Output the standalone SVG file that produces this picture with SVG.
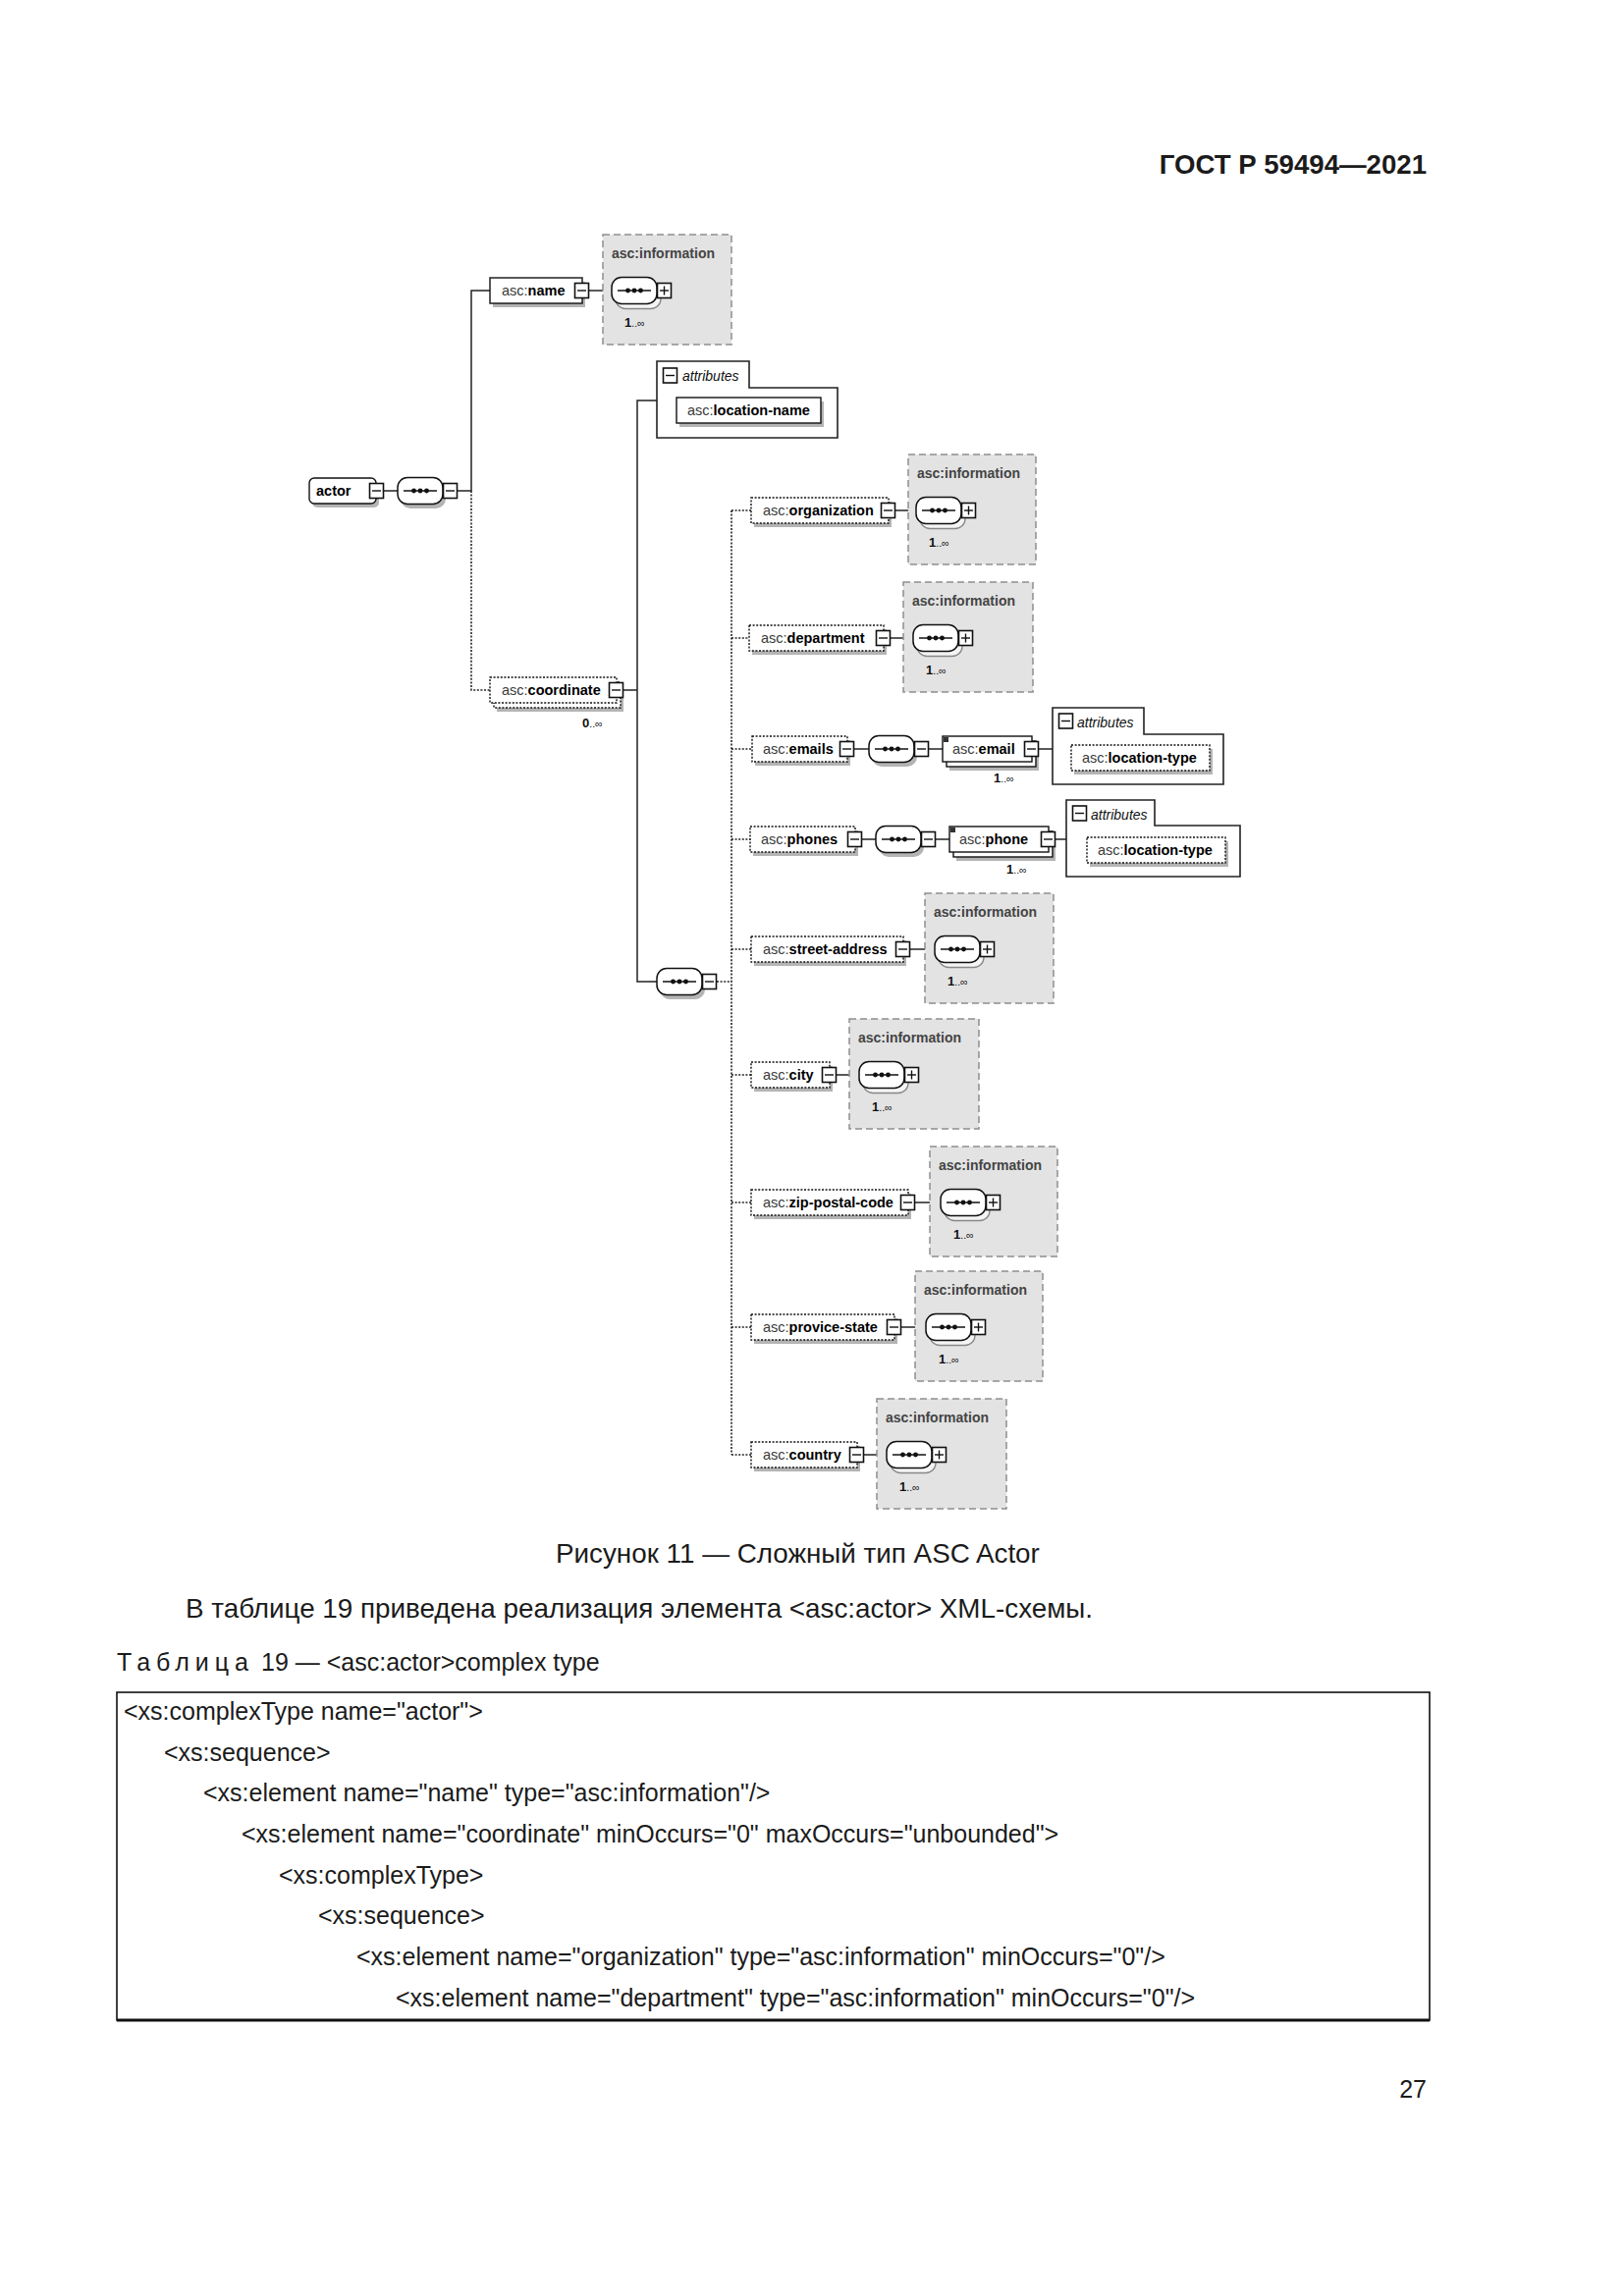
<svg xmlns="http://www.w3.org/2000/svg" width="1654" height="2339" viewBox="0 0 1654 2339">
<style>
 text{font-family:"Liberation Sans",Arial,sans-serif}
 .lbl{font-size:14.5px;fill:#3a3a3a}
 .b{font-weight:bold;fill:#000}
 .it{font-size:14px;font-weight:bold;fill:#444}
 .card{font-size:13px;font-weight:bold;fill:#111}
 .sm{font-size:10.5px;font-weight:normal}
 .at{font-size:14px;font-style:italic;fill:#111}
 .el{fill:#fff;stroke:#111;stroke-width:1.4}
 .opt{stroke-dasharray:2 1.6}
 .sh{fill:#b4b4b4}
 .info{fill:#e3e3e3;stroke:#8e8e8e;stroke-width:1.5;stroke-dasharray:7 4}
 .c{stroke:#222;stroke-width:1.5;fill:none}
 .d{stroke:#222;stroke-width:1.6;fill:none;stroke-dasharray:2 1.6}
 .attr{fill:#fff;stroke:#222;stroke-width:1.6}
 .body{font-size:25px;fill:#1b1b1b}
 .big{font-size:27.8px}
 .hdr{font-size:27.6px;font-weight:bold}
</style>
<defs>
 <g id="mi"><rect x="0.5" y="0" width="14" height="15" fill="#fff" stroke="#111" stroke-width="1.6"/><line x1="3" y1="7.5" x2="12" y2="7.5" stroke="#111" stroke-width="1.4"/></g>
 <g id="pl"><rect x="0.5" y="0" width="14" height="15" fill="#fff" stroke="#111" stroke-width="1.6"/><line x1="3" y1="7.5" x2="12" y2="7.5" stroke="#111" stroke-width="1.4"/><line x1="7.5" y1="3" x2="7.5" y2="12" stroke="#111" stroke-width="1.4"/></g>
 <g id="dots"><line x1="6" y1="0" x2="40" y2="0" stroke="#111" stroke-width="1.3"/><circle cx="16.5" cy="0" r="2.4" fill="#111"/><circle cx="23" cy="0" r="2.4" fill="#111"/><circle cx="29.5" cy="0" r="2.4" fill="#111"/></g>
 <g id="seq">
  <rect x="3" y="-9" width="46" height="27" rx="10" fill="#b4b4b4"/>
  <rect x="0" y="-13.5" width="46" height="27" rx="10" fill="#fff" stroke="#111" stroke-width="1.5"/>
  <use href="#dots"/>
 </g>
 <g id="seqm">
  <rect x="4" y="-8.5" width="46" height="27" rx="10" fill="#f4f4f4" stroke="#888" stroke-width="1.3"/>
  <rect x="0" y="-13.5" width="46" height="27" rx="10" fill="#fff" stroke="#111" stroke-width="1.5"/>
  <use href="#dots"/>
 </g>
</defs>

<text class="body hdr" x="1453" y="177" text-anchor="end">ГОСТ Р 59494—2021</text>

<g id="connectors">
 <line class="c" x1="391" y1="500" x2="405" y2="500"/>
 <line class="c" x1="466" y1="500" x2="480" y2="500"/>
 <polyline class="c" points="480,500 480,296 499,296"/>
 <polyline class="d" points="480,500 480,703 499,703"/>
 <line class="c" x1="600" y1="296" x2="623" y2="296"/>
 <line class="c" x1="635" y1="703" x2="649" y2="703"/>
 <polyline class="c" points="669,408 649,408 649,1000 669,1000"/>
 <line class="d" x1="730" y1="1000" x2="745" y2="1000"/>
 <line class="d" x1="745" y1="520" x2="745" y2="1482"/>
 <line class="d" x1="745" y1="520" x2="765" y2="520"/>
 <line class="d" x1="745" y1="650" x2="763" y2="650"/>
 <line class="d" x1="745" y1="763" x2="766" y2="763"/>
 <line class="d" x1="745" y1="855" x2="764" y2="855"/>
 <line class="d" x1="745" y1="967" x2="765" y2="967"/>
 <line class="d" x1="745" y1="1095" x2="765" y2="1095"/>
 <line class="d" x1="745" y1="1225" x2="765" y2="1225"/>
 <line class="d" x1="745" y1="1352" x2="765" y2="1352"/>
 <line class="d" x1="745" y1="1482" x2="765" y2="1482"/>
 <line class="c" x1="912" y1="520" x2="933" y2="520"/>
 <line class="c" x1="907" y1="650" x2="930" y2="650"/>
 <line class="c" x1="870" y1="763" x2="885" y2="763"/>
 <line class="c" x1="946" y1="763" x2="960" y2="763"/>
 <line class="c" x1="1058" y1="763" x2="1072" y2="763"/>
 <line class="c" x1="878" y1="855" x2="892" y2="855"/>
 <line class="c" x1="953" y1="855" x2="967" y2="855"/>
 <line class="c" x1="1075" y1="855" x2="1086" y2="855"/>
 <line class="c" x1="927" y1="967" x2="952" y2="967"/>
 <line class="c" x1="852" y1="1095" x2="875" y2="1095"/>
 <line class="c" x1="932" y1="1225" x2="958" y2="1225"/>
 <line class="c" x1="918" y1="1352" x2="943" y2="1352"/>
 <line class="c" x1="880" y1="1482" x2="903" y2="1482"/>
</g>

<g id="actor">
 <rect class="sh" x="318" y="491" width="68" height="26" rx="5"/>
 <rect class="el" x="315" y="487" width="68" height="26" rx="5"/>
 <text class="lbl b" x="322" y="505">actor</text>
 <use href="#mi" x="376" y="492.5"/>
</g>
<g id="actor-seq">
 <use href="#seq" x="405" y="500"/>
 <use href="#mi" x="451" y="492.5"/>
</g>

<g id="name">
 <rect class="sh" x="502" y="287" width="94" height="26"/>
 <rect class="el" x="499" y="283" width="94" height="26"/>
 <text class="lbl" x="511" y="301">asc:<tspan class="b">name</tspan></text>
 <use href="#mi" x="585" y="288.5"/>
</g>
<g id="name-info">
 <rect class="info" x="614" y="239" width="131" height="112"/>
 <text class="it" x="623" y="263">asc:information</text>
 <use href="#seqm" x="623" y="296"/>
 <use href="#pl" x="669" y="288.5"/>
 <text class="card" x="636" y="333">1<tspan class="sm">..∞</tspan></text>
</g>

<g id="coordinate">
 <rect class="sh" x="506" y="699" width="129" height="26"/>
 <rect class="el opt" x="503" y="695" width="129" height="26"/>
 <rect class="el opt" x="499" y="690" width="129" height="26"/>
 <text class="lbl" x="511" y="708">asc:<tspan class="b">coordinate</tspan></text>
 <use href="#mi" x="620" y="695.5"/>
 <text class="card" x="593" y="741">0<tspan class="sm">..∞</tspan></text>
</g>

<g id="coordinate-attributes">
 <path class="attr" d="M669,446 V368 H763 V395 H853 V446 Z"/>
 <use href="#mi" x="675" y="375"/>
 <text class="at" x="695" y="388">attributes</text>
 <rect class="sh" x="692" y="409" width="147" height="26"/>
 <rect class="el" x="689" y="405" width="147" height="26"/>
 <text class="lbl" x="700" y="423">asc:<tspan class="b">location-name</tspan></text>
</g>

<g id="coordinate-seq">
 <use href="#seq" x="669" y="1000"/>
 <use href="#mi" x="715" y="992.5"/>
</g>

<g id="organization">
 <rect class="sh" x="768" y="511" width="140" height="26"/>
 <rect class="el opt" x="765" y="507" width="140" height="26"/>
 <text class="lbl" x="777" y="525">asc:<tspan class="b">organization</tspan></text>
 <use href="#mi" x="897" y="512.5"/>
</g>
<g id="organization-info">
 <rect class="info" x="925" y="463" width="130" height="112"/>
 <text class="it" x="934" y="487">asc:information</text>
 <use href="#seqm" x="933" y="520"/>
 <use href="#pl" x="979" y="512.5"/>
 <text class="card" x="946" y="557">1<tspan class="sm">..∞</tspan></text>
</g>

<g id="department">
 <rect class="sh" x="766" y="641" width="137" height="26"/>
 <rect class="el opt" x="763" y="637" width="137" height="26"/>
 <text class="lbl" x="775" y="655">asc:<tspan class="b">department</tspan></text>
 <use href="#mi" x="892" y="642.5"/>
</g>
<g id="department-info">
 <rect class="info" x="920" y="593" width="132" height="112"/>
 <text class="it" x="929" y="617">asc:information</text>
 <use href="#seqm" x="930" y="650"/>
 <use href="#pl" x="976" y="642.5"/>
 <text class="card" x="943" y="687">1<tspan class="sm">..∞</tspan></text>
</g>

<g id="emails">
 <rect class="sh" x="769" y="754" width="97" height="26"/>
 <rect class="el opt" x="766" y="750" width="97" height="26"/>
 <text class="lbl" x="777" y="768">asc:<tspan class="b">emails</tspan></text>
 <use href="#mi" x="855" y="755.5"/>
</g>
<g id="emails-seq">
 <use href="#seq" x="885" y="763"/>
 <use href="#mi" x="931" y="755.5"/>
</g>
<g id="email">
 <rect class="sh" x="967" y="759" width="91" height="26"/>
 <rect class="el" x="964" y="755" width="91" height="26"/>
 <rect class="el" x="960" y="750" width="91" height="26"/>
 <rect x="961" y="751" width="5" height="5" fill="#333"/>
 <text class="lbl" x="970" y="768">asc:<tspan class="b">email</tspan></text>
 <use href="#mi" x="1043" y="755.5"/>
 <text class="card" x="1012" y="797">1<tspan class="sm">..∞</tspan></text>
</g>
<g id="email-attributes">
 <path class="attr" d="M1072,799 V721 H1165 V748 H1246 V799 Z"/>
 <use href="#mi" x="1078" y="727"/>
 <text class="at" x="1097" y="741">attributes</text>
 <rect class="sh" x="1094" y="763" width="141" height="26"/>
 <rect class="el opt" x="1091" y="759" width="141" height="26"/>
 <text class="lbl" x="1102" y="777">asc:<tspan class="b">location-type</tspan></text>
</g>

<g id="phones">
 <rect class="sh" x="767" y="846" width="107" height="26"/>
 <rect class="el opt" x="764" y="842" width="107" height="26"/>
 <text class="lbl" x="775" y="860">asc:<tspan class="b">phones</tspan></text>
 <use href="#mi" x="863" y="847.5"/>
</g>
<g id="phones-seq">
 <use href="#seq" x="892" y="855"/>
 <use href="#mi" x="938" y="847.5"/>
</g>
<g id="phone">
 <rect class="sh" x="974" y="851" width="101" height="26"/>
 <rect class="el" x="971" y="847" width="101" height="26"/>
 <rect class="el" x="967" y="842" width="101" height="26"/>
 <rect x="968" y="843" width="5" height="5" fill="#333"/>
 <text class="lbl" x="977" y="860">asc:<tspan class="b">phone</tspan></text>
 <use href="#mi" x="1060" y="847.5"/>
 <text class="card" x="1025" y="890">1<tspan class="sm">..∞</tspan></text>
</g>
<g id="phone-attributes">
 <path class="attr" d="M1086,893 V815 H1176 V841 H1263 V893 Z"/>
 <use href="#mi" x="1092" y="821"/>
 <text class="at" x="1111" y="835">attributes</text>
 <rect class="sh" x="1110" y="857" width="141" height="26"/>
 <rect class="el opt" x="1107" y="853" width="141" height="26"/>
 <text class="lbl" x="1118" y="871">asc:<tspan class="b">location-type</tspan></text>
</g>

<g id="street-address">
 <rect class="sh" x="768" y="958" width="155" height="26"/>
 <rect class="el opt" x="765" y="954" width="155" height="26"/>
 <text class="lbl" x="777" y="972">asc:<tspan class="b">street-address</tspan></text>
 <use href="#mi" x="912" y="959.5"/>
</g>
<g id="street-address-info">
 <rect class="info" x="942" y="910" width="131" height="112"/>
 <text class="it" x="951" y="934">asc:information</text>
 <use href="#seqm" x="952" y="967"/>
 <use href="#pl" x="998" y="959.5"/>
 <text class="card" x="965" y="1004">1<tspan class="sm">..∞</tspan></text>
</g>

<g id="city">
 <rect class="sh" x="768" y="1086" width="80" height="26"/>
 <rect class="el opt" x="765" y="1082" width="80" height="26"/>
 <text class="lbl" x="777" y="1100">asc:<tspan class="b">city</tspan></text>
 <use href="#mi" x="837" y="1087.5"/>
</g>
<g id="city-info">
 <rect class="info" x="865" y="1038" width="132" height="112"/>
 <text class="it" x="874" y="1062">asc:information</text>
 <use href="#seqm" x="875" y="1095"/>
 <use href="#pl" x="921" y="1087.5"/>
 <text class="card" x="888" y="1132">1<tspan class="sm">..∞</tspan></text>
</g>

<g id="zip-postal-code">
 <rect class="sh" x="768" y="1216" width="160" height="26"/>
 <rect class="el opt" x="765" y="1212" width="160" height="26"/>
 <text class="lbl" x="777" y="1230">asc:<tspan class="b">zip-postal-code</tspan></text>
 <use href="#mi" x="917" y="1217.5"/>
</g>
<g id="zip-postal-code-info">
 <rect class="info" x="947" y="1168" width="130" height="112"/>
 <text class="it" x="956" y="1192">asc:information</text>
 <use href="#seqm" x="958" y="1225"/>
 <use href="#pl" x="1004" y="1217.5"/>
 <text class="card" x="971" y="1262">1<tspan class="sm">..∞</tspan></text>
</g>

<g id="provice-state">
 <rect class="sh" x="768" y="1343" width="146" height="26"/>
 <rect class="el opt" x="765" y="1339" width="146" height="26"/>
 <text class="lbl" x="777" y="1357">asc:<tspan class="b">provice-state</tspan></text>
 <use href="#mi" x="903" y="1344.5"/>
</g>
<g id="provice-state-info">
 <rect class="info" x="932" y="1295" width="130" height="112"/>
 <text class="it" x="941" y="1319">asc:information</text>
 <use href="#seqm" x="943" y="1352"/>
 <use href="#pl" x="989" y="1344.5"/>
 <text class="card" x="956" y="1389">1<tspan class="sm">..∞</tspan></text>
</g>

<g id="country">
 <rect class="sh" x="768" y="1473" width="108" height="26"/>
 <rect class="el opt" x="765" y="1469" width="108" height="26"/>
 <text class="lbl" x="777" y="1487">asc:<tspan class="b">country</tspan></text>
 <use href="#mi" x="865" y="1474.5"/>
</g>
<g id="country-info">
 <rect class="info" x="893" y="1425" width="132" height="112"/>
 <text class="it" x="902" y="1449">asc:information</text>
 <use href="#seqm" x="903" y="1482"/>
 <use href="#pl" x="949" y="1474.5"/>
 <text class="card" x="916" y="1519">1<tspan class="sm">..∞</tspan></text>
</g>

<text class="body big" x="566" y="1592">Рисунок 11 — Сложный тип ASC Actor</text>
<text class="body big" x="189" y="1648">В таблице 19 приведена реализация элемента &lt;asc:actor&gt; XML-схемы.</text>
<text class="body" x="119" y="1702"><tspan letter-spacing="6">Таблица</tspan> 19 — &lt;asc:actor&gt;complex type</text>

<g id="table">
 <rect x="119" y="1724" width="1337" height="334" fill="none" stroke="#111" stroke-width="1.6"/>
 <line x1="119" y1="2058" x2="1456" y2="2058" stroke="#111" stroke-width="3"/>
 <text class="body" x="126" y="1752">&lt;xs:complexType name="actor"&gt;</text>
 <text class="body" x="167" y="1794">&lt;xs:sequence&gt;</text>
 <text class="body" x="207" y="1835">&lt;xs:element name="name" type="asc:information"/&gt;</text>
 <text class="body" x="246" y="1877">&lt;xs:element name="coordinate" minOccurs="0" maxOccurs="unbounded"&gt;</text>
 <text class="body" x="284" y="1919">&lt;xs:complexType&gt;</text>
 <text class="body" x="324" y="1960">&lt;xs:sequence&gt;</text>
 <text class="body" x="363" y="2002">&lt;xs:element name="organization" type="asc:information" minOccurs="0"/&gt;</text>
 <text class="body" x="403" y="2044">&lt;xs:element name="department" type="asc:information" minOccurs="0"/&gt;</text>
</g>

<text class="body" x="1453" y="2137" text-anchor="end">27</text>
</svg>
